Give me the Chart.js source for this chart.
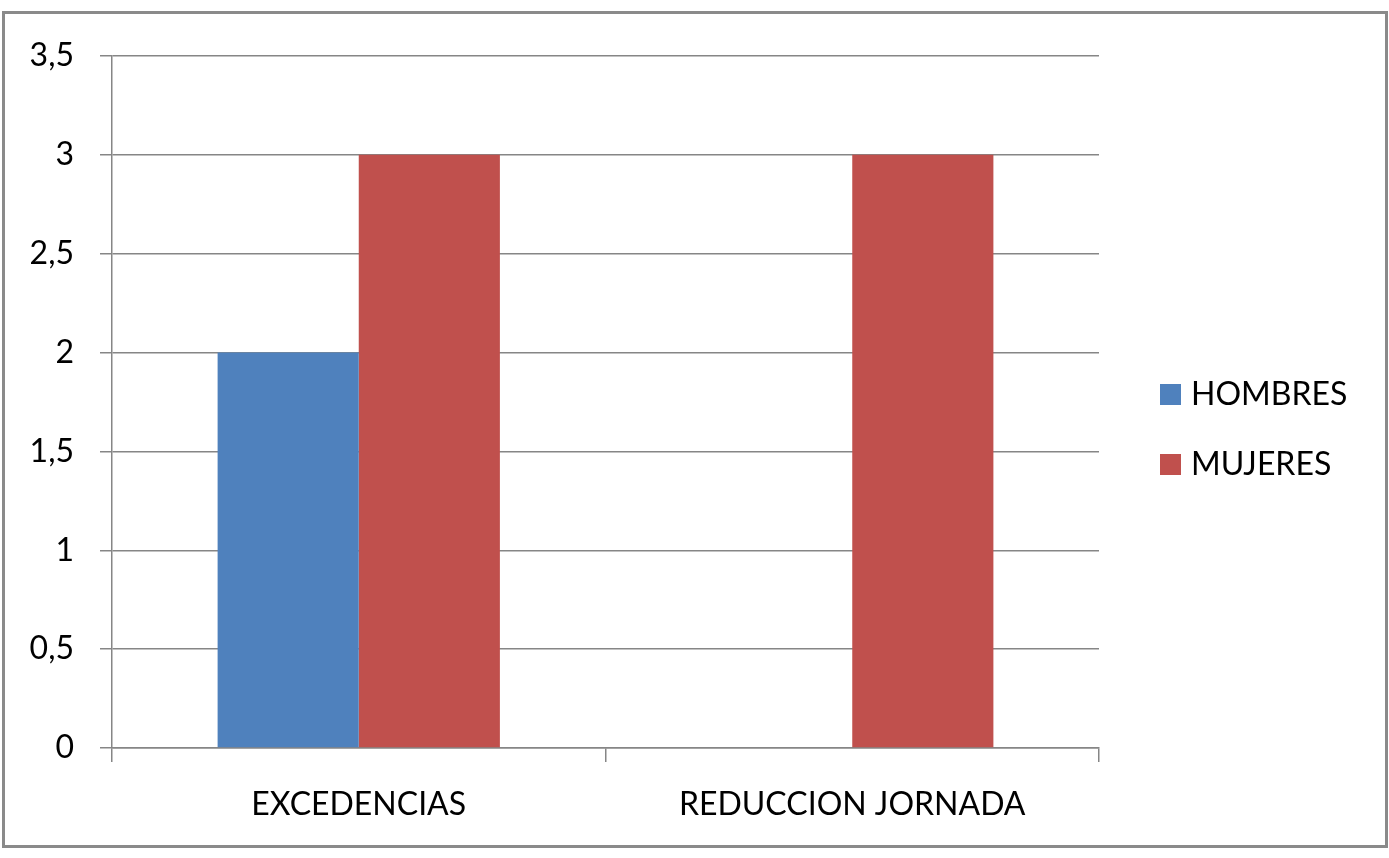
<!DOCTYPE html>
<html><head><meta charset="utf-8">
<script src="https://cdn.jsdelivr.net/npm/chart.js@4"></script>
<style>
html,body{margin:0;padding:0;background:#fff;overflow:hidden;}
#wrap{position:absolute;left:0;top:0;width:1389px;height:858px;}
#frame{position:absolute;left:2px;top:11px;width:1380px;height:831px;border:3px solid #8a8a8a;pointer-events:none;}
canvas{position:absolute;left:0;top:0;}
</style></head>
<body>
<div id="wrap"><canvas id="c" width="1389" height="858"></canvas><div id="frame"></div></div>
<script>
const categories = ["EXCEDENCIAS", "REDUCCION JORNADA"];
const hombres = [2, 0];
const mujeres = [3, 3];
const seriesNames = ["HOMBRES", "MUJERES"];
const yTicks = [0, 0.5, 1, 1.5, 2, 2.5, 3, 3.5];
const FONT = "Lato, 'Open Sans', sans-serif";
const FSIZE = 32;

const legendPlugin = {
  id: 'customLegend',
  afterDraw(chart) {
    const ctx = chart.ctx;
    const x = chart.chartArea.right + 61;
    const y0 = chart.chartArea.top + (chart.chartArea.bottom - chart.chartArea.top) / 2 - 8;
    const gap = 70;
    ctx.save();
    ctx.font = FSIZE + "px " + FONT;
    ctx.textBaseline = 'middle';
    chart.data.datasets.forEach((ds, i) => {
      const y = y0 + i * gap;
      ctx.fillStyle = ds.backgroundColor;
      ctx.fillRect(x, y - 10, 21, 21);
      ctx.fillStyle = '#000';
      ctx.fillText(ds.label, x + 31, y + 1);
    });
    ctx.restore();
  }
};

new Chart(document.getElementById('c'), {
  type: 'bar',
  data: {
    labels: categories,
    datasets: [
      { label: seriesNames[0], data: hombres, backgroundColor: '#4F81BD' },
      { label: seriesNames[1], data: mujeres, backgroundColor: '#C0504D' }
    ]
  },
  options: {
    responsive: false,
    animation: false,
    devicePixelRatio: 1,
    layout: { padding: { top: 56, right: 290, bottom: 0, left: 0 } },
    datasets: { bar: { categoryPercentage: 0.572, barPercentage: 1 } },
    plugins: { legend: { display: false }, tooltip: { enabled: false } },
    scales: {
      x: {
        offset: true,
        grid: { offset: true, drawOnChartArea: false, drawTicks: true, tickLength: 14, color: '#868686', lineWidth: 1.5 },
        border: { display: true, color: '#868686', width: 1.5 },
        ticks: { color: '#000', font: { family: FONT, size: FSIZE }, padding: 23 },
        afterFit(s) { s.height = 110; }
      },
      y: {
        min: 0, max: 3.5,
        afterBuildTicks(s) { s.ticks = yTicks.map(v => ({ value: v })); },
        grid: { color: '#868686', lineWidth: 1.5, tickLength: 12 },
        border: { display: true, color: '#868686', width: 1.5 },
        ticks: {
          color: '#000', font: { family: FONT, size: FSIZE }, padding: 26,
          callback: v => String(v).replace('.', ',')
        },
        afterFit(s) { s.width = 112; }
      }
    }
  },
  plugins: [legendPlugin]
});
</script>
</body></html>
